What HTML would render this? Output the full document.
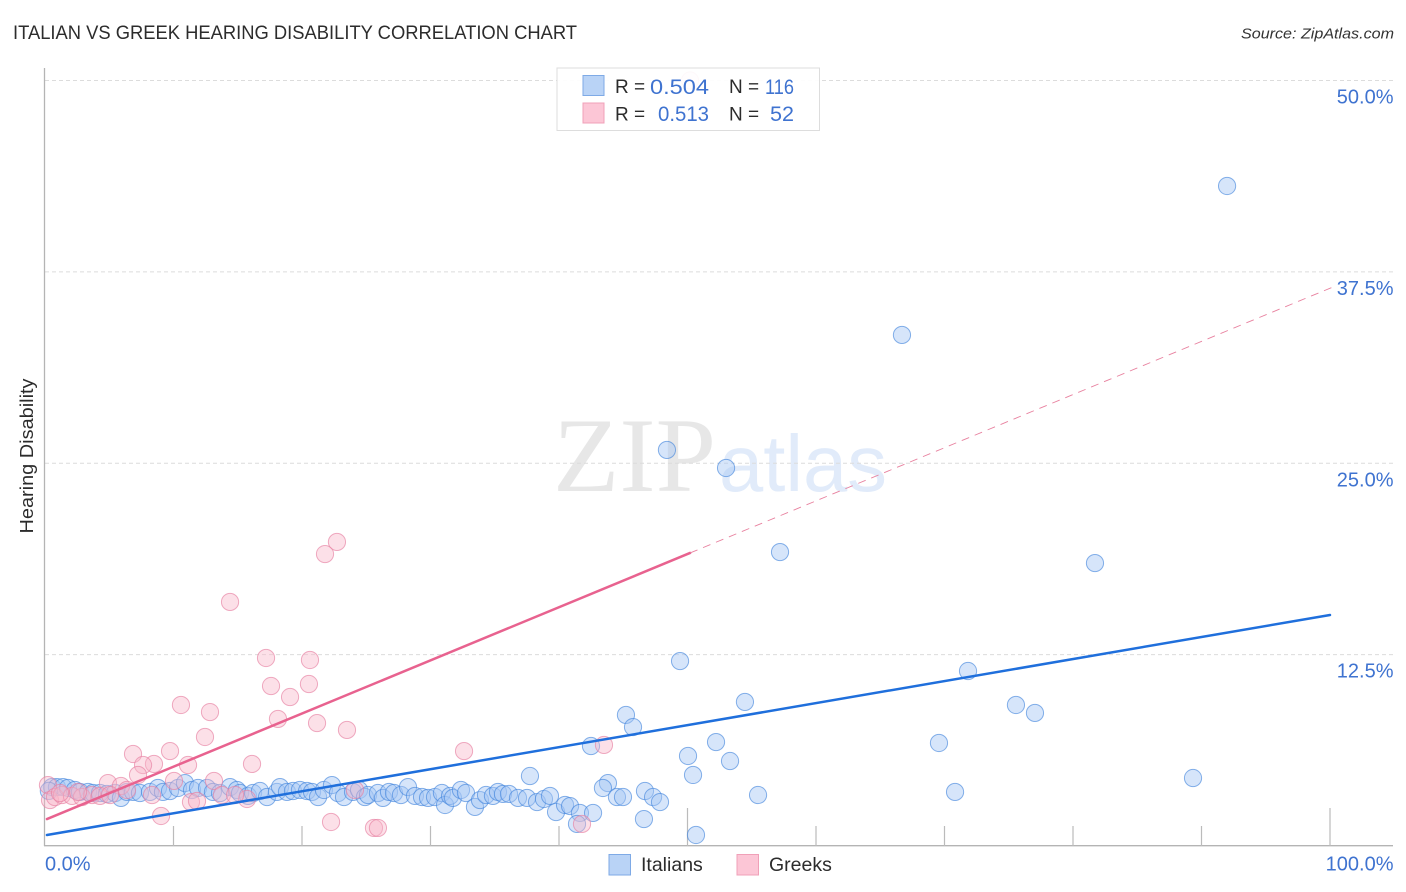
<!DOCTYPE html>
<html lang="en">
<head>
<meta charset="utf-8">
<title>Italian vs Greek Hearing Disability Correlation Chart</title>
<style>
html,body{margin:0;padding:0;background:#fff;}
body{width:1406px;height:892px;overflow:hidden;}
svg{display:block;font-family:"Liberation Sans",sans-serif;}
</style>
</head>
<body>
<svg id="chart" width="1406" height="892" viewBox="0 0 1406 892" xmlns="http://www.w3.org/2000/svg">
  <rect x="0" y="0" width="1406" height="892" fill="#ffffff"/>
  <text x="13" y="39" font-size="19" fill="#2c2c2c" textLength="564" lengthAdjust="spacingAndGlyphs">ITALIAN VS GREEK HEARING DISABILITY CORRELATION CHART</text>
  <text x="1241" y="38.5" font-size="15" font-style="italic" fill="#333" textLength="153" lengthAdjust="spacingAndGlyphs">Source: ZipAtlas.com</text>
  <g id="watermark">
    <text x="553" y="491" font-size="106" fill="#e7e7e7" style="font-family:'Liberation Serif',serif" textLength="163" lengthAdjust="spacingAndGlyphs">ZIP</text>
    <text x="719" y="491" font-size="80" fill="#e1ebfa" textLength="168" lengthAdjust="spacingAndGlyphs">atlas</text>
  </g>
  <g id="grid"></g>
  <g id="axes"></g>
  <g id="italians"></g>
  <g id="greeks"></g>
  <g id="trends"></g>
  <g id="labels"></g>
  <text transform="translate(33,456) rotate(-90)" text-anchor="middle" font-size="18" fill="#2c2c2c" textLength="155" lengthAdjust="spacingAndGlyphs">Hearing Disability</text>

  <g>
    <rect x="557" y="68" width="262.5" height="62.5" fill="#ffffff" fill-opacity="0.92" stroke="#dddddd" stroke-width="1"/>
    <rect x="583" y="75.5" width="21" height="20" fill="#b9d3f6" stroke="#7eaae6" stroke-width="1"/>
    <rect x="583" y="103" width="21" height="20" fill="#fcc6d6" stroke="#f0a0b8" stroke-width="1"/>
    <text x="615" y="93" font-size="19" fill="#2c2c2c">R =</text>
    <text x="650" y="94" font-size="21.5" fill="#3f73d0" textLength="59" lengthAdjust="spacingAndGlyphs">0.504</text>
    <text x="729" y="93" font-size="19" fill="#2c2c2c">N =</text>
    <text x="765" y="94" font-size="21.5" fill="#3f73d0" textLength="29" lengthAdjust="spacingAndGlyphs">116</text>
    <text x="615" y="120.5" font-size="19" fill="#2c2c2c">R =</text>
    <text x="658" y="121" font-size="21.5" fill="#3f73d0" textLength="51" lengthAdjust="spacingAndGlyphs">0.513</text>
    <text x="729" y="120.5" font-size="19" fill="#2c2c2c">N =</text>
    <text x="770" y="121" font-size="21.5" fill="#3f73d0" textLength="24" lengthAdjust="spacingAndGlyphs">52</text>
  </g>

  <g>
    <g>
      <rect x="609" y="854.5" width="21.5" height="20.5" fill="#b9d3f6" stroke="#7eaae6" stroke-width="1"/>
      <text x="641" y="871" font-size="19.5" fill="#2c2c2c">Italians</text>
    </g>
    <g>
      <rect x="737" y="854.5" width="21.5" height="20.5" fill="#fcc6d6" stroke="#f0a0b8" stroke-width="1"/>
      <text x="769" y="871" font-size="19.5" fill="#2c2c2c">Greeks</text>
    </g>
  </g>
</svg>
<script>
// ---- chart data (percent units) ----
const italianX = [0.54,0.93,1.40,1.79,2.33,2.72,3.35,3.74,4.28,4.82,5.45,5.91,6.38,6.85,7.39,8.17,8.79,9.18,9.73,10.35,10.89,11.44,11.91,12.61,13.07,13.62,14.40,14.94,15.18,15.80,16.19,16.73,17.28,18.05,18.29,18.83,19.30,19.84,20.39,20.78,21.25,21.71,22.33,22.80,23.27,23.97,24.44,24.90,25.14,25.91,26.30,26.77,27.16,27.70,28.25,28.79,29.34,29.81,30.35,30.89,31.13,31.52,31.75,32.37,32.76,33.46,33.85,34.32,34.86,35.25,35.64,36.11,36.81,37.51,38.29,38.83,39.30,39.77,40.47,40.86,41.63,42.65,41.40,91.99,66.69,48.40,53.00,57.20,81.71,49.42,71.83,54.47,75.56,77.04,45.21,45.76,69.57,52.22,42.49,50.04,53.31,50.43,37.74,89.34,43.81,43.42,70.82,55.49,46.69,44.51,44.98,47.32,47.86,46.61,50.66,0.30];
const italianY = [3.85,3.85,3.85,3.79,3.66,3.53,3.53,3.46,3.46,3.40,3.46,3.14,3.53,3.53,3.46,3.53,3.79,3.53,3.59,3.79,4.11,3.66,3.79,3.79,3.53,3.46,3.85,3.66,3.46,3.27,3.46,3.59,3.20,3.53,3.85,3.53,3.59,3.66,3.59,3.53,3.20,3.66,3.98,3.46,3.20,3.53,3.66,3.20,3.33,3.46,3.14,3.53,3.46,3.33,3.85,3.27,3.20,3.14,3.20,3.46,2.68,3.27,3.14,3.66,3.46,2.55,3.00,3.33,3.27,3.53,3.40,3.40,3.14,3.14,2.87,3.07,3.27,2.22,2.68,2.61,2.16,2.16,1.44,43.11,33.38,25.87,24.69,19.20,18.48,12.08,11.43,9.41,9.21,8.69,8.56,7.77,6.73,6.79,6.53,5.88,5.55,4.64,4.57,4.44,4.11,3.79,3.53,3.33,3.59,3.20,3.20,3.20,2.87,1.76,0.72,3.60];
const greekX = [22.72,21.79,14.40,17.20,20.62,17.59,20.54,19.07,10.58,12.84,18.13,21.17,23.50,12.45,6.85,9.73,32.61,43.50,16.11,8.48,7.63,11.13,7.24,10.04,13.15,4.90,5.91,0.23,22.26,9.03,25.60,25.91,41.79,11.36,11.83,15.72,8.33,24.12,13.77,14.79,0.39,0.78,1.32,2.10,2.88,3.66,4.28,5.06,6.38,1.17,2.57,50.20];
const greekY = [19.86,19.07,15.94,12.28,12.15,10.45,10.58,9.73,9.21,8.75,8.30,8.03,7.58,7.12,6.01,6.20,6.20,6.60,5.36,5.36,5.29,5.29,4.64,4.25,4.25,4.11,3.92,3.98,1.57,1.96,1.18,1.18,1.44,2.87,2.94,3.07,3.33,3.66,3.33,3.33,3.00,3.20,3.33,3.27,3.20,3.33,3.27,3.33,3.66,3.46,3.53,50.00];
const italianTrendX = [0.15,100];
const italianTrendY = [0.72,15.09];
const greekSolidX = [0.15,50.2];
const greekSolidY = [1.76,19.14];
const greekDashedX = [50.2,100.2];
const greekDashedY = [19.14,36.5];
const yTickValues = [50,37.5,25,12.5];
const yTickLabels = ["50.0%","37.5%","25.0%","12.5%"];
const xTickValues = [10,20,30,40,50,60,70,80,90,100];
const xLongTicks = [50,100];
const xEndValues = [0,100];
const xEndLabels = ["0.0%","100.0%"];

// ---- axis functions ----
function xScale(v){ return 45 + v * 12.85; }
function yScale(v){ return 846 - v * 15.31; }

const NS = "http://www.w3.org/2000/svg";
function make(tag, attrs, parent){
  const el = document.createElementNS(NS, tag);
  for (const k in attrs) el.setAttribute(k, attrs[k]);
  parent.appendChild(el);
  return el;
}

// gridlines
const gridG = document.getElementById("grid");


yTickValues.forEach(function(v){
  const l = make("line", {x1:45, x2:1393, y1:yScale(v), y2:yScale(v), stroke:"#dcdcdc", "stroke-width":1, "stroke-dasharray":"4 3"}, gridG);
  
  
});

// axes
const axesG = document.getElementById("axes");


const yAxis = make("line", {x1:44.5, x2:44.5, y1:68, y2:846, stroke:"#b4b4b4", "stroke-width":1.3}, axesG);


const xAxis = make("line", {x1:44, x2:1393, y1:845.7, y2:845.7, stroke:"#b4b4b4", "stroke-width":1.3}, axesG);


xTickValues.forEach(function(v){
  const top = xLongTicks.indexOf(v) >= 0 ? 808 : 826;
  const t = make("line", {x1:xScale(v), x2:xScale(v), y1:top, y2:846, stroke:"#bbbbbb", "stroke-width":1.2}, axesG);
  
  
});

// points
function drawPoints(groupId, xs, ys, fill, stroke, fillOpacity, strokeOpacity){
  const g = document.getElementById(groupId);
  
  
  xs.forEach(function(x, i){
    const c = make("circle", {cx:xScale(x), cy:yScale(ys[i]), r:8.6, fill:fill, "fill-opacity":fillOpacity, stroke:stroke, "stroke-opacity":strokeOpacity, "stroke-width":1}, g);
    
    
  });
}
drawPoints("italians", italianX, italianY, "#a3c6f3", "#3f82dc", 0.45, 0.62);
drawPoints("greeks", greekX, greekY, "#f9b4c9", "#e77fa2", 0.42, 0.65);

// trend lines
const trendG = document.getElementById("trends");


const tb = make("line", {x1:xScale(italianTrendX[0]), y1:yScale(italianTrendY[0]), x2:xScale(italianTrendX[1]), y2:yScale(italianTrendY[1]), stroke:"#1f6fdc", "stroke-width":2.5, "stroke-linecap":"round"}, trendG);


const tp = make("line", {x1:xScale(greekSolidX[0]), y1:yScale(greekSolidY[0]), x2:xScale(greekSolidX[1]), y2:yScale(greekSolidY[1]), stroke:"#e8628f", "stroke-width":2.5, "stroke-linecap":"round"}, trendG);


const td = make("line", {x1:xScale(greekDashedX[0]), y1:yScale(greekDashedY[0]), x2:xScale(greekDashedX[1]), y2:yScale(greekDashedY[1]), stroke:"#e8819f", "stroke-width":0.9, "stroke-dasharray":"8 6"}, trendG);



// tick labels
const labelG = document.getElementById("labels");


yTickValues.forEach(function(v, i){
  const t = make("text", {x:1393.5, y:yScale(v) + 23, "text-anchor":"end", "font-size":20, fill:"#3f73d0"}, labelG);
  t.textContent = yTickLabels[i];
  
  
});
xEndValues.forEach(function(v, i){
  const t = make("text", {x: i === 0 ? xScale(v) : 1393.5, y:870.5, "text-anchor": i === 0 ? "start" : "end", "font-size":20, fill:"#3f73d0"}, labelG);
  t.textContent = xEndLabels[i];
  
  
});
</script>
</body>
</html>
